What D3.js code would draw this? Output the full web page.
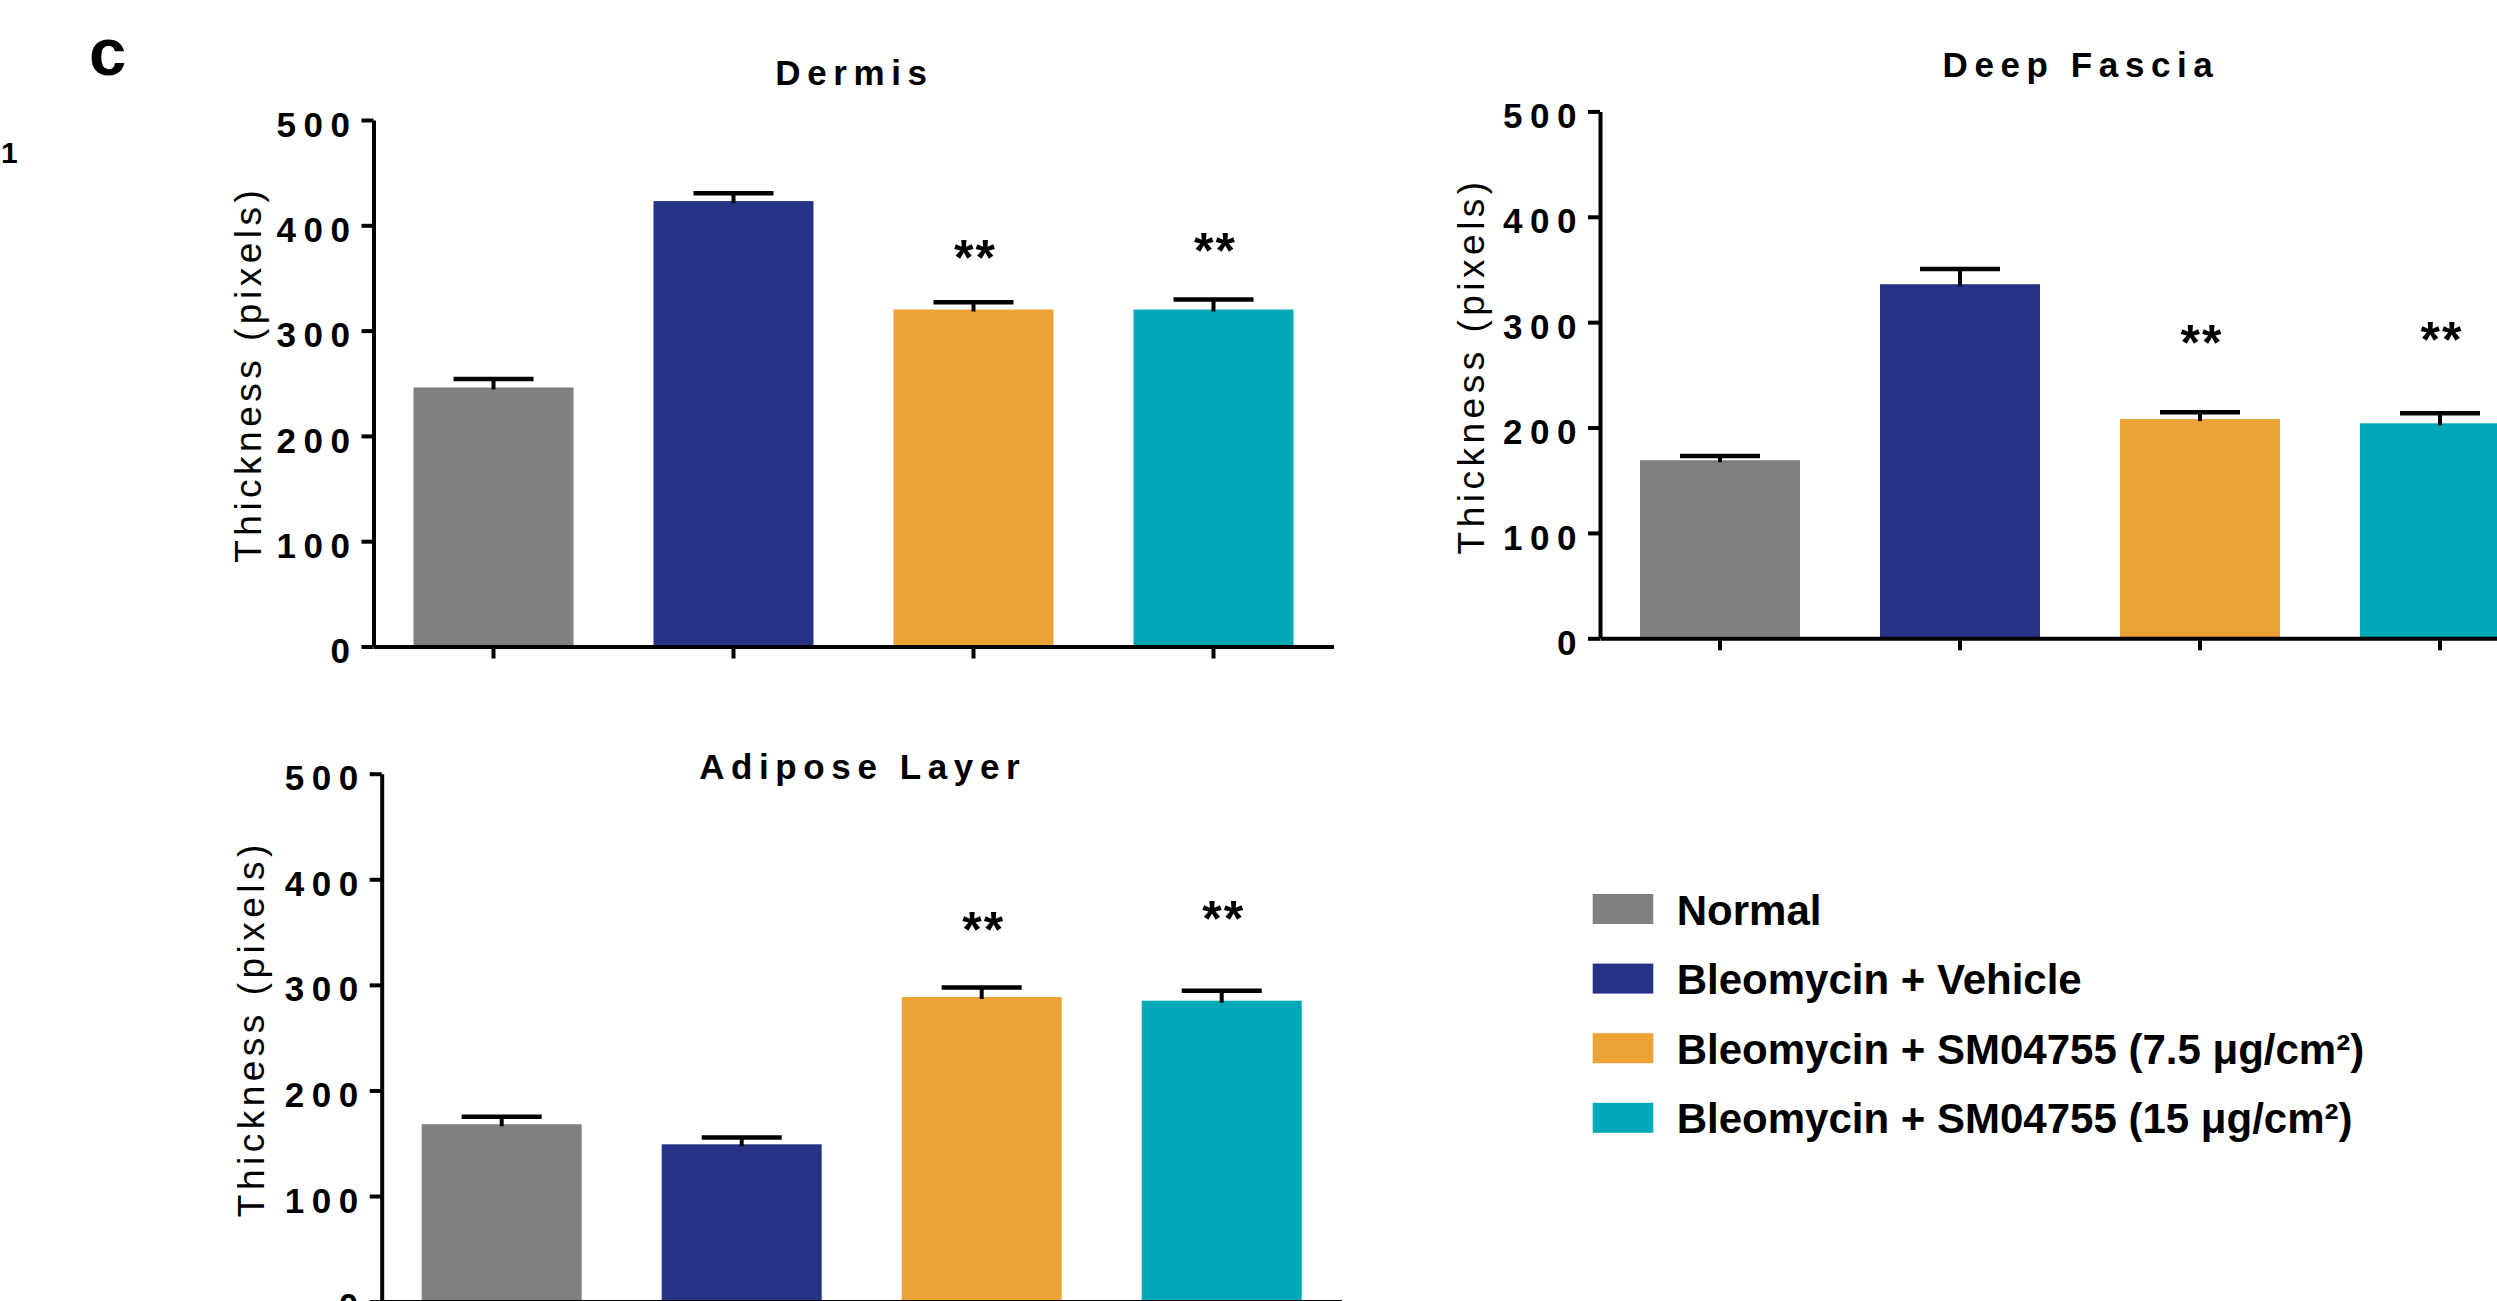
<!DOCTYPE html>
<html>
<head>
<meta charset="utf-8">
<script src="https://cdn.jsdelivr.net/npm/d3@7"></script>
<style>
  html, body { margin: 0; padding: 0; background: #fff; }
  svg { display: block; }
</style>
</head>
<body>
<svg id="chart" width="2497" height="1301"></svg>
<script>
// ---------------- data ----------------
const categories = ["Normal", "Bleomycin + Vehicle", "Bleomycin + SM04755 (7.5 μg/cm²)", "Bleomycin + SM04755 (15 μg/cm²)"];
const seriesColors = ["#808080", "#263286", "#EDA236", "#01A8B8"];
const panelTitles = ["Dermis", "Deep Fascia", "Adipose Layer"];
const yTickValues = [0, 100, 200, 300, 400, 500];
const yLabel = "Thickness (pixels)";

const dermisMean = [246, 423, 320, 320];
const dermisErr = [8, 7.5, 7, 9.5];
const dermisSig = ["", "", "**", "**"];
const dermisSigY = [null, null, 379, 386];

const fasciaMean = [169, 336, 208, 204];
const fasciaErr = [4, 14.5, 6.5, 9.5];
const fasciaSig = ["", "", "**", "**"];
const fasciaSigY = [null, null, 291, 293.5];

const adiposeMean = [168, 149, 288.5, 285];
const adiposeErr = [7, 6.5, 9, 9.5];
const adiposeSig = ["", "", "**", "**"];
const adiposeSigY = [null, null, 362, 373];

// ---------------- drawing ----------------
const FONT = "'Liberation Sans', Arial, Helvetica, sans-serif";
const svg = d3.select("#chart");
svg.append("rect").attr("width", 2497).attr("height", 1301).attr("fill", "#fff");

function drawPanel(cfg, title, means, errs, sig, sigY) {
  const g = svg.append("g");
  const x = d3.scaleBand().domain(categories)
    .range([cfg.left, cfg.left + 960]).paddingInner(1 / 3).paddingOuter(1 / 6);
  const y = d3.scaleLinear().domain([0, 500]).range([cfg.bottom, cfg.top]);
  const rows = categories.map((c, i) => ({ c, i, m: means[i], e: errs[i], s: sig[i], sy: sigY[i] }));

  // bars
  g.selectAll("rect.bar").data(rows).join("rect")
    .attr("class", "bar")
    .attr("x", d => x(d.c))
    .attr("width", x.bandwidth())
    .attr("y", d => y(d.m))
    .attr("height", d => y(0) - y(d.m))
    .attr("fill", d => seriesColors[d.i]);

  // error bars (upper only)
  const cx = d => x(d.c) + x.bandwidth() / 2;
  g.selectAll("line.err").data(rows).join("line")
    .attr("class", "err")
    .attr("x1", cx).attr("x2", cx)
    .attr("y1", d => y(d.m) + 2).attr("y2", d => y(d.m + d.e))
    .attr("stroke", "#000").attr("stroke-width", 4);
  g.selectAll("line.cap").data(rows).join("line")
    .attr("class", "cap")
    .attr("x1", d => cx(d) - 40).attr("x2", d => cx(d) + 40)
    .attr("y1", d => y(d.m + d.e)).attr("y2", d => y(d.m + d.e))
    .attr("stroke", "#000").attr("stroke-width", 4.5);

  // significance stars
  const SF = 50;
  g.selectAll("text.sig").data(rows.filter(d => d.s)).join("text")
    .attr("class", "sig")
    .attr("x", d => cx(d) + 2)
    .attr("y", d => y(d.sy) + 0.56 * SF)
    .attr("text-anchor", "middle")
    .attr("font-family", FONT).attr("font-weight", "bold")
    .attr("font-size", SF).attr("letter-spacing", 2)
    .text(d => d.s);

  // y axis
  const yAxis = g.append("g")
    .attr("transform", `translate(${cfg.left},0)`)
    .call(d3.axisLeft(y).tickValues(yTickValues).tickSize(12).tickSizeOuter(0).tickPadding(4));
  yAxis.attr("font-family", FONT).attr("font-size", 35).attr("font-weight", "bold");
  yAxis.selectAll("text").attr("letter-spacing", 7.5).attr("dy", "0.46em");
  yAxis.selectAll("path, line").attr("stroke-width", 4);

  // x axis
  const xAxis = g.append("g")
    .attr("transform", `translate(0,${cfg.bottom})`)
    .call(d3.axisBottom(x).tickSize(12).tickSizeOuter(0).tickFormat(""));
  xAxis.selectAll("path, line").attr("stroke-width", 4);

  // title
  g.append("text")
    .attr("x", cfg.left + 480 + 1)
    .attr("y", cfg.titleY)
    .attr("text-anchor", "middle")
    .attr("font-family", FONT).attr("font-weight", "bold")
    .attr("font-size", 35).attr("letter-spacing", 6.6)
    .text(title);

  // y label
  const midY = (cfg.top + cfg.bottom) / 2 - 9;
  g.append("text")
    .attr("transform", `translate(${cfg.left - cfg.labelOff},${midY}) rotate(-90)`)
    .attr("text-anchor", "middle")
    .attr("font-family", FONT)
    .attr("font-size", 37).attr("letter-spacing", 4.5)
    .text(yLabel);
}

drawPanel({ left: 373.5, top: 120, bottom: 646.5, titleY: 85, labelOff: 113 },
  panelTitles[0], dermisMean, dermisErr, dermisSig, dermisSigY);
drawPanel({ left: 1600, top: 111.4, bottom: 638.3, titleY: 77, labelOff: 116 },
  panelTitles[1], fasciaMean, fasciaErr, fasciaSig, fasciaSigY);
drawPanel({ left: 381.7, top: 773.7, bottom: 1301.6, titleY: 779, labelOff: 118 },
  panelTitles[2], adiposeMean, adiposeErr, adiposeSig, adiposeSigY);

// panel letter and stray number
svg.append("text").attr("x", 89).attr("y", 75)
  .attr("font-family", FONT).attr("font-weight", "bold").attr("font-size", 67).text("c");
svg.append("text").attr("x", 1).attr("y", 163)
  .attr("font-family", FONT).attr("font-weight", "bold").attr("font-size", 30).text("1");

// legend
const legend = svg.append("g").attr("transform", "translate(1592.7,894)");
const lg = legend.selectAll("g").data(categories).join("g")
  .attr("transform", (d, i) => `translate(0,${i * 69.6})`);
lg.append("rect").attr("width", 60.6).attr("height", 30)
  .attr("fill", (d, i) => seriesColors[i]);
lg.append("text").attr("x", 84).attr("y", 30.6)
  .attr("font-family", FONT).attr("font-weight", "bold").attr("font-size", 42)
  .text(d => d);
</script>
</body>
</html>
